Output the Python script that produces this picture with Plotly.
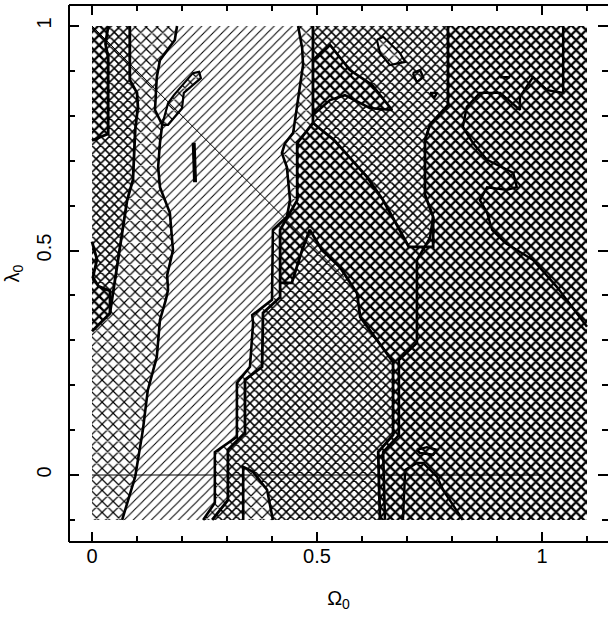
import plotly.graph_objects as go

# ---------------- data (Omega_0, lambda_0) ----------------
OM_LIM = [0.0, 1.1]
LA_LIM = [-0.1, 1.0]

# boundary: medium | sparse (left)
b1_om = [0.084, 0.084, 0.100, 0.102, 0.096, 0.091, 0.078, 0.062, 0.051, 0.040]
b1_la = [1.000, 0.880, 0.851, 0.820, 0.768, 0.657, 0.612, 0.508, 0.434, 0.361]

# boundary: sparse | diagonal (left)
b2_om = [0.189, 0.184, 0.151, 0.144, 0.140, 0.156, 0.151, 0.147, 0.151, 0.173,
         0.180, 0.167, 0.169, 0.164, 0.151, 0.144, 0.124, 0.113, 0.096, 0.067]
b2_la = [1.000, 0.969, 0.924, 0.886, 0.813, 0.780, 0.739, 0.686, 0.641, 0.584,
         0.501, 0.445, 0.412, 0.390, 0.345, 0.263, 0.189, 0.100, -0.004, -0.100]

# boundary: diagonal | sparse (right)
b3_om = [0.458, 0.467, 0.469, 0.458, 0.447, 0.429, 0.422, 0.433, 0.440, 0.433,
         0.402, 0.400, 0.356, 0.358, 0.351, 0.322, 0.322, 0.273, 0.273, 0.247]
b3_la = [1.000, 0.951, 0.913, 0.835, 0.762, 0.739, 0.717, 0.686, 0.612, 0.575,
         0.546, 0.390, 0.356, 0.339, 0.241, 0.205, 0.085, 0.051, -0.062, -0.100]

# boundary: sparse | medium/heavy (right)
b4_om = [0.491, 0.491, 0.456, 0.456, 0.418, 0.418, 0.380, 0.378, 0.340, 0.340, 0.302, 0.302, 0.267]
b4_la = [1.000, 0.784, 0.739, 0.612, 0.546, 0.396, 0.361, 0.241, 0.212, 0.094, 0.056, -0.056, -0.100]

# boundary: medium | heavy, upper part
c3u_om = [0.791, 0.791, 0.751, 0.740, 0.740, 0.758, 0.758, 0.704, 0.684, 0.647, 0.611, 0.538, 0.491]
c3u_la = [1.000, 0.824, 0.780, 0.746, 0.624, 0.575, 0.508, 0.508, 0.545, 0.612, 0.664, 0.746, 0.784]

# boundary: medium | heavy, lower part
c3l_om = [0.418, 0.444, 0.467, 0.484, 0.511, 0.551, 0.589, 0.596, 0.633, 0.669, 0.669, 0.636, 0.640]
c3l_la = [0.428, 0.428, 0.501, 0.546, 0.501, 0.463, 0.405, 0.352, 0.301, 0.252, 0.089, 0.051, -0.100]

# heavy islands
pA_om = [0.0, 0.036, 0.030, 0.036, 0.036, 0.0]
pA_la = [1.0, 1.000, 0.960, 0.930, 0.760, 0.745]
pB_om = [0.0, 0.011, 0.002, 0.015, 0.040, 0.040, 0.0]
pB_la = [0.52, 0.480, 0.440, 0.420, 0.410, 0.360, 0.32]
pX_om = [0.491, 0.529, 0.573, 0.622, 0.667, 0.618, 0.562, 0.529, 0.491]
pX_la = [0.924, 0.958, 0.902, 0.869, 0.813, 0.817, 0.846, 0.835, 0.802]

# sparse islands
s1_om = [0.633, 0.647, 0.684, 0.696, 0.662, 0.640, 0.633]
s1_la = [0.969, 0.976, 0.940, 0.920, 0.913, 0.940, 0.969]
s2_om = [0.336, 0.336, 0.358, 0.389, 0.402]
s2_la = [-0.100, 0.018, 0.007, -0.033, -0.100]
s3_om = [0.156, 0.169, 0.182, 0.224, 0.238, 0.242, 0.204, 0.200, 0.169, 0.156]
s3_la = [0.780, 0.828, 0.846, 0.895, 0.898, 0.884, 0.851, 0.817, 0.780, 0.780]

# small closed contours
q1_om = [0.713, 0.729, 0.736, 0.722, 0.713]
q1_la = [0.895, 0.902, 0.886, 0.875, 0.895]
q2_om = [0.751, 0.767, 0.760, 0.751]
q2_la = [0.851, 0.851, 0.840, 0.851]
dash_om = [0.226, 0.229]
dash_la = [0.740, 0.652]

# contours inside the heavy region
e1_om = [1.047, 1.047, 1.011, 0.980, 0.951, 0.951, 0.907, 0.862, 0.833, 0.824, 0.847, 0.878,
         0.936, 0.944, 0.922, 0.878, 0.862, 0.878, 0.889, 0.918, 0.980, 1.033, 1.100]
e1_la = [1.000, 0.851, 0.857, 0.886, 0.842, 0.813, 0.851, 0.851, 0.820, 0.775, 0.739, 0.702,
         0.673, 0.641, 0.635, 0.641, 0.612, 0.584, 0.546, 0.517, 0.479, 0.419, 0.330]
e1b_om = [0.907, 0.929]
e1b_la = [0.886, 0.886]
e2_om = [0.758, 0.751, 0.722, 0.722, 0.682, 0.682, 0.647, 0.651]
e2_la = [0.575, 0.528, 0.479, 0.294, 0.256, 0.089, 0.051, -0.100]
e3_om = [0.691, 0.696, 0.722, 0.736, 0.767, 0.780, 0.824]
e3_la = [-0.100, 0.011, 0.027, 0.027, -0.004, -0.033, -0.100]
e4_om = [0.722, 0.744, 0.767, 0.758, 0.729, 0.722]
e4_la = [0.056, 0.062, 0.056, 0.045, 0.049, 0.056]

# reference lines (flat universe, visible part; lambda = 0)
flat_om = [0.0, 0.56]
flat_la = [1.0, 0.44]
zero_om = [0.0, 1.0]
zero_la = [0.0, 0.0]

# ---------------- figure ----------------
X0 = OM_LIM[0]; X1 = OM_LIM[1]; Y0 = LA_LIM[0]; Y1 = LA_LIM[1]

PAT = {
    "heavy": dict(shape="x", size=7.1, solidity=0.55),
    "medium": dict(shape="x", size=6.4, solidity=0.42),
    "sparse": dict(shape="x", size=7.8, solidity=0.28),
    "diag": dict(shape="/", size=6.4, solidity=0.16),
}

fig = go.Figure()


def region(om, la, kind):
    p = dict(PAT[kind])
    p.update(fgcolor="black", bgcolor="white", fillmode="replace")
    fig.add_trace(go.Scatter(x=om, y=la, mode="lines", fill="toself",
                             fillcolor="white", fillpattern=p,
                             line=dict(width=0, color="black"),
                             hoverinfo="skip", showlegend=False))


def contour(om, la, w=2.8):
    fig.add_trace(go.Scatter(x=om, y=la, mode="lines",
                             line=dict(width=w, color="black"),
                             hoverinfo="skip", showlegend=False))


# heavy background
region([X0, X1, X1, X0], [Y0, Y0, Y1, Y1], "heavy")
# medium (and lower)
region([X0, X0] + c3u_om + b4_om[2:5] + c3l_om,
       [Y0, Y1] + c3u_la + b4_la[2:5] + c3l_la, "medium")
# heavy islands
region(pA_om, pA_la, "heavy")
region(pB_om, pB_la, "heavy")
region(pX_om, pX_la, "heavy")
# sparse (and lower)
region(b1_om + [X0, X0] + b4_om[::-1],
       b1_la + [0.32, Y0] + b4_la[::-1], "sparse")
region(s1_om, s1_la, "sparse")
region(s2_om, s2_la, "sparse")
# diagonal hatch (best region)
region(b2_om + b3_om[::-1], b2_la + b3_la[::-1], "diag")
region(s3_om, s3_la, "sparse")

# reference lines
contour(flat_om, flat_la, 1)
contour(zero_om, zero_la, 1)

# contour lines
for om, la, w in [
    (b1_om, b1_la, 2.8), (b2_om, b2_la, 2.6), (b3_om, b3_la, 2.6), (b4_om, b4_la, 2.8),
    (c3u_om, c3u_la, 2.8), (c3l_om, c3l_la, 2.8),
    (pA_om[1:], pA_la[1:], 2.8), (pB_om, pB_la, 2.8), (pX_om, pX_la, 2.6),
    (s1_om, s1_la, 2.2), (s2_om, s2_la, 2.6), (s3_om, s3_la, 2.2),
    (q1_om, q1_la, 2.4), (q2_om, q2_la, 2.4), (dash_om, dash_la, 4.0),
    (e1_om, e1_la, 2.4), (e1b_om, e1b_la, 2.4), (e2_om, e2_la, 2.6),
    (e3_om, e3_la, 2.4), (e4_om, e4_la, 2.4),
]:
    contour(om, la, w)

FONT = "Liberation Sans, Arial, Helvetica, sans-serif"
axis_common = dict(
    showgrid=False, zeroline=False, showline=False,
    mirror="ticks", ticks="inside", ticklen=10, tickwidth=1.5, tickcolor="black",
    tickfont=dict(family=FONT, size=20, color="black"),
    minor=dict(ticks="inside", ticklen=6, tickwidth=1.5, tickcolor="black",
               dtick=0.1, tick0=0, showgrid=False),
)

frame = dict(type="line", xref="paper", yref="paper", line=dict(color="black", width=2))
fig.update_layout(
    width=608, height=622,
    margin=dict(l=69, r=0, t=5, b=80),
    paper_bgcolor="white", plot_bgcolor="white",
    font=dict(family=FONT, color="black"),
    xaxis=dict(range=[-0.05111, 1.14667], tickvals=[0, 0.5, 1], ticktext=["0", "0.5", "1"],
               title=dict(text="Ω<sub>0</sub>", font=dict(family=FONT, size=20), standoff=24),
               **axis_common),
    yaxis=dict(range=[-0.14922, 1.04677], tickvals=[0, 0.5, 1], ticktext=["0", "0.5", "1"],
               tickangle=-90, ticklabelstandoff=13,
               title=dict(text="λ<sub>0</sub>", font=dict(family=FONT, size=20), standoff=8),
               **axis_common),
    shapes=[
        dict(frame, x0=0, x1=0, y0=0, y1=1),
        dict(frame, x0=0, x1=1.01, y0=1, y1=1),
        dict(frame, x0=0, x1=1.01, y0=0, y1=0),
    ],
)

fig.write_html("out.html")
